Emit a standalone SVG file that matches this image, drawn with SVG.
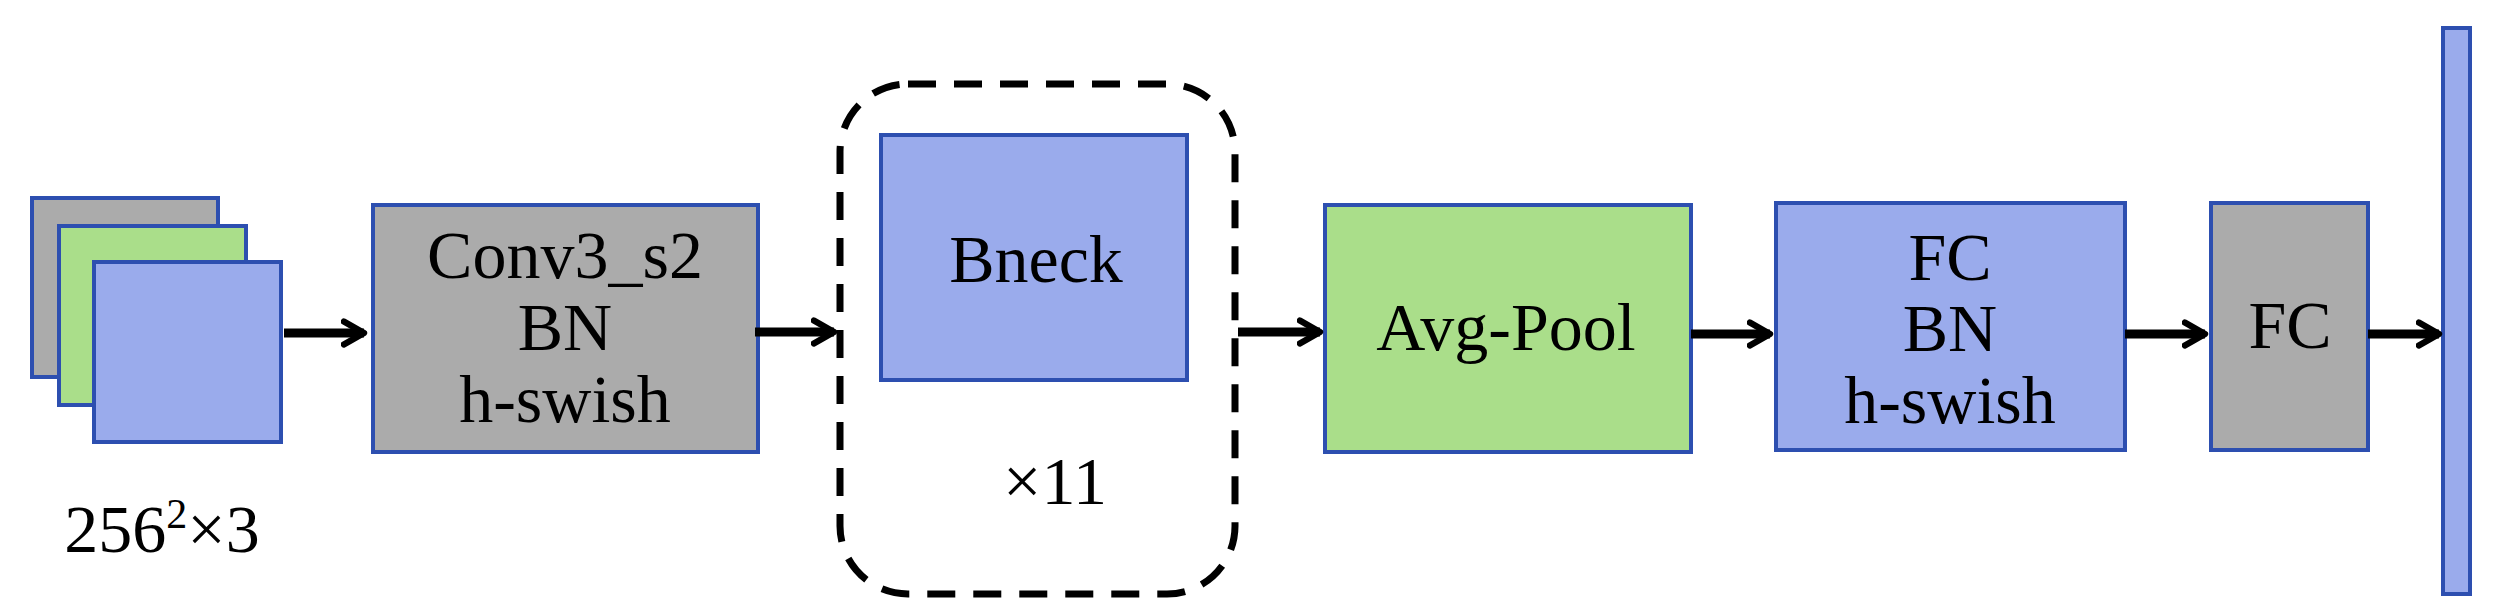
<svg xmlns="http://www.w3.org/2000/svg" width="2503" height="616" viewBox="0 0 2503 616">
<defs>
<style>
.n{stroke:#2d4fb0;stroke-width:4}
.b{fill:#9aabec}.g{fill:#aade8a}.y{fill:#ababab}
text{font-family:"Liberation Serif","Times New Roman",serif;font-size:68px;fill:#000;text-anchor:middle}
.c line{stroke:#000;stroke-width:9;marker-end:url(#a)}
</style>
<marker id="a" viewBox="0 0 10 10" refX="8" refY="5" markerWidth="3.2" markerHeight="3.6" orient="auto" markerUnits="strokeWidth"><path d="M1,1 L8,5 L1,9" fill="none" stroke="#000" stroke-width="2.2" stroke-linecap="round" stroke-linejoin="round"/></marker>
</defs>
<rect width="2503" height="616" fill="#fff"/>
<g id="input">
<rect class="n y" x="32" y="198" width="186" height="179"/>
<rect class="n g" x="59" y="226" width="187" height="179"/>
<rect class="n b" x="94" y="262" width="187" height="180"/>
<text x="162" y="552" font-size="70">256<tspan font-size="42" dy="-24">2</tspan><tspan dy="24">×3</tspan></text>
</g>
<g id="conv">
<rect class="n y" x="373" y="205" width="385" height="247"/>
<text x="565" y="278">Conv3_s2</text>
<text x="565" y="350">BN</text>
<text x="565" y="422">h-swish</text>
</g>
<g id="bneck">
<rect x="840" y="84" width="395" height="510" rx="68" fill="none" stroke="#000" stroke-width="7" stroke-dasharray="28,18"/>
<rect class="n b" x="881" y="135" width="306" height="245"/>
<text x="1036" y="282">Bneck</text>
<text x="1055" y="504">×11</text>
</g>
<g id="avgpool">
<rect class="n g" x="1325" y="205" width="366" height="247"/>
<text x="1506" y="350">Avg-Pool</text>
</g>
<g id="fcbn">
<rect class="n b" x="1776" y="203" width="349" height="247"/>
<text x="1950" y="280">FC</text>
<text x="1950" y="351">BN</text>
<text x="1950" y="423">h-swish</text>
</g>
<g id="fc">
<rect class="n y" x="2211" y="203" width="157" height="247"/>
<text x="2290" y="348">FC</text>
</g>
<g id="output">
<rect class="n b" x="2443" y="28" width="27" height="566"/>
</g>
<g class="c">
<line x1="284" y1="333" x2="364" y2="333"/>
<line x1="755" y1="332" x2="834" y2="332"/>
<line x1="1238" y1="332" x2="1320" y2="332"/>
<line x1="1691" y1="334" x2="1770" y2="334"/>
<line x1="2125" y1="334" x2="2205" y2="334"/>
<line x1="2368" y1="334" x2="2439" y2="334"/>
</g>
</svg>
